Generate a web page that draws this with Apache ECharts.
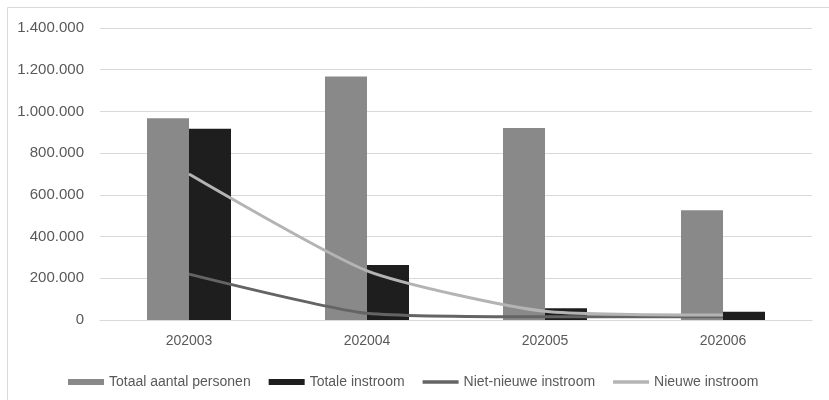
<!DOCTYPE html>
<html>
<head>
<meta charset="utf-8">
<script src="https://cdn.jsdelivr.net/npm/echarts@6/dist/echarts.min.js"></script>
<style>html,body{margin:0;padding:0;background:#fff}#c{width:829px;height:400px}</style>
</head>
<body>
<div id="c"></div>
<script>
var categories = ['202003', '202004', '202005', '202006'];
var totaalAantalPersonen = [967000, 1167000, 921000, 526000];
var totaleInstroom = [917000, 264000, 56000, 40000];
var nietNieuweInstroom = [220000, 32000, 15000, 16000];
var nieuweInstroom = [700000, 236000, 42000, 24000];
var yTicks = [0, 200000, 400000, 600000, 800000, 1000000, 1200000, 1400000];

function fmt(v) {
  return String(v).replace(/\B(?=(\d{3})+(?!\d))/g, '.');
}
var font = "'Liberation Sans', Arial, sans-serif";
var lineIcon = 'path://M0,0H36V3.5H0Z';
var chart = echarts.init(document.getElementById('c'), null, {renderer: 'canvas'});
chart.setOption({
  animation: false,
  backgroundColor: '#fff',
  graphic: [{
    type: 'rect', shape: {x: 7.5, y: 7.5, width: 900, height: 500},
    style: {fill: 'none', stroke: '#d9d9d9', lineWidth: 1}, silent: true, z: -1
  }],
  grid: {left: 100, right: 17, top: 28, bottom: 80},
  legend: {
    left: 63, top: 370, itemGap: 18, itemWidth: 36, itemHeight: 6,
    textStyle: {fontFamily: font, fontSize: 14, color: '#595959'},
    data: [
      {name: 'Totaal aantal personen', icon: 'rect'},
      {name: 'Totale instroom', icon: 'rect'},
      {name: 'Niet-nieuwe instroom', icon: lineIcon},
      {name: 'Nieuwe instroom', icon: lineIcon}
    ]
  },
  xAxis: {
    type: 'category', data: categories,
    axisLine: {lineStyle: {color: '#d9d9d9'}},
    axisTick: {show: false},
    axisLabel: {fontFamily: font, fontSize: 14, color: '#595959', margin: 14}
  },
  yAxis: {
    type: 'value', min: yTicks[0], max: yTicks[yTicks.length - 1], interval: 200000,
    axisLine: {show: false}, axisTick: {show: false},
    splitLine: {lineStyle: {color: '#d9d9d9', width: 1}},
    axisLabel: {fontFamily: font, fontSize: 15, color: '#595959', margin: 16, formatter: fmt}
  },
  series: [
    {name: 'Totaal aantal personen', type: 'bar', data: totaalAantalPersonen, barWidth: 42, barGap: '0%',
     itemStyle: {color: '#898989'}},
    {name: 'Totale instroom', type: 'bar', data: totaleInstroom, barWidth: 42, barGap: '0%',
     itemStyle: {color: '#1e1e1e'}},
    {name: 'Niet-nieuwe instroom', type: 'line', data: nietNieuweInstroom, symbol: 'none', smooth: 0.2,
     lineStyle: {color: '#646464', width: 3}, itemStyle: {color: '#646464'}, z: 3},
    {name: 'Nieuwe instroom', type: 'line', data: nieuweInstroom, symbol: 'none', smooth: 0.2,
     lineStyle: {color: '#b4b4b4', width: 3}, itemStyle: {color: '#b4b4b4'}, z: 3}
  ]
});
</script>
</body>
</html>
